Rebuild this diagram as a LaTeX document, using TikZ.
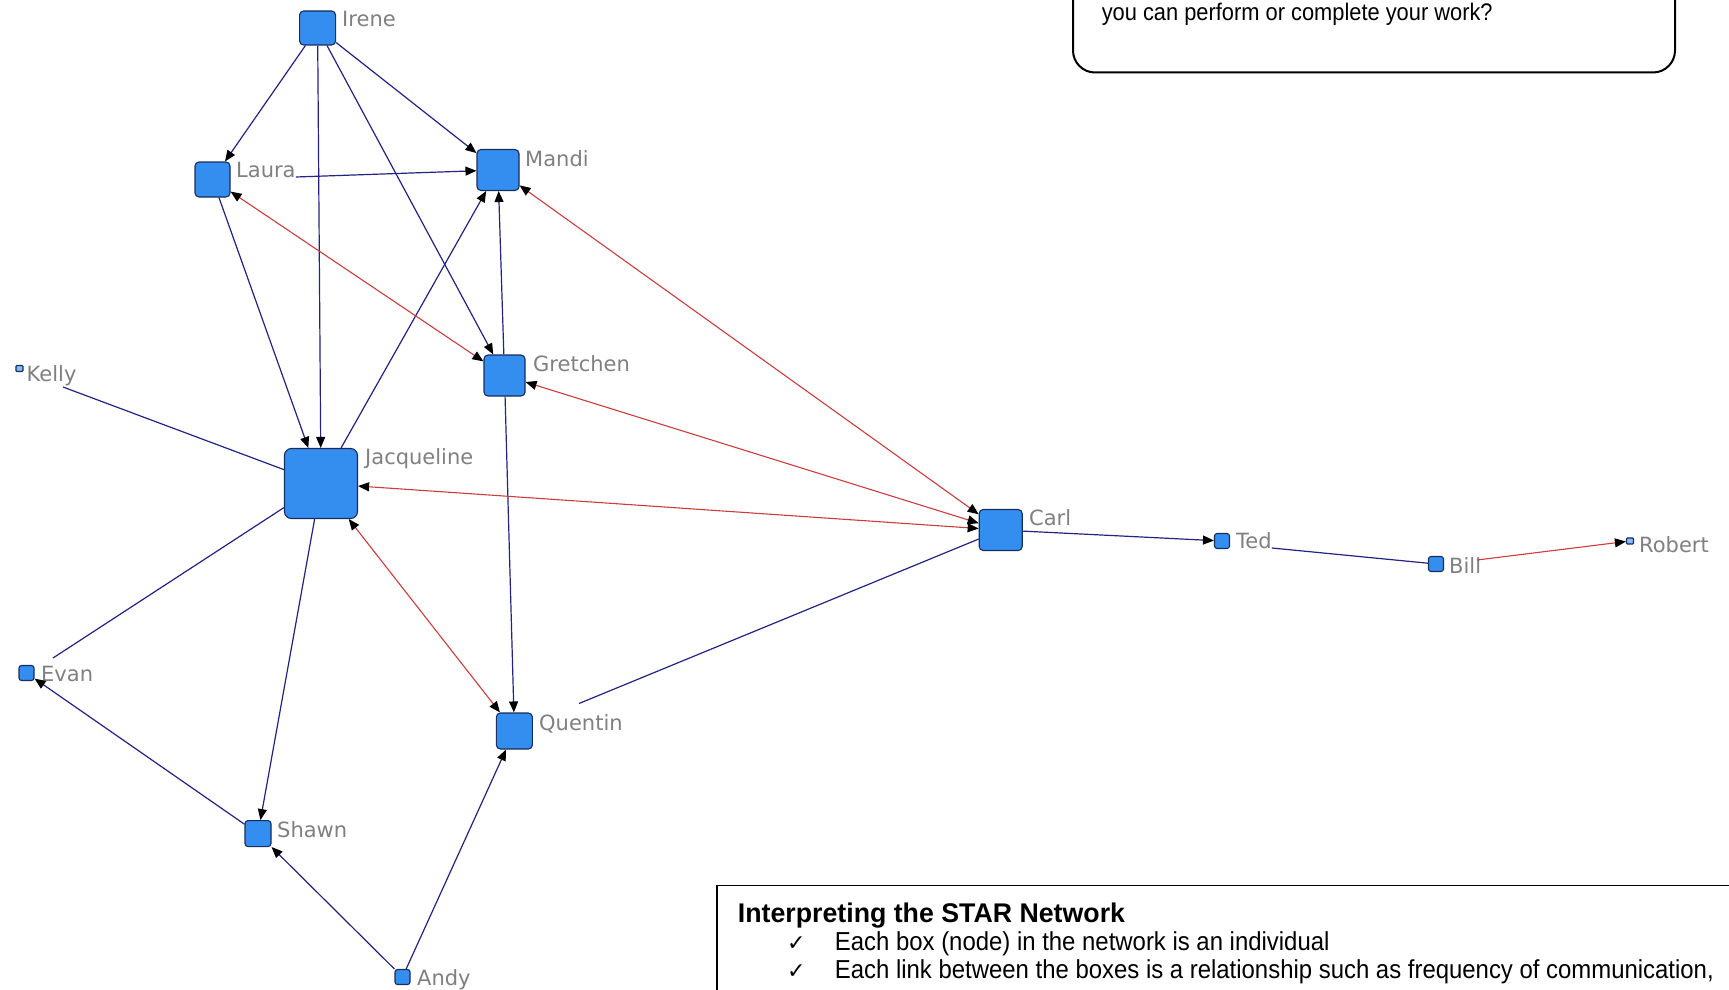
\documentclass[tikz,border=0pt]{standalone}
\usepackage{fontspec}
\setmainfont{Liberation Sans}[FakeStretch=0.91]
\newfontfamily\bodyfont{Liberation Sans}[FakeStretch=0.92]
\newfontfamily\titlefont{Liberation Sans}[FakeStretch=0.99]
\newfontfamily\lblfont{DejaVu Sans}
\newfontfamily\symfont{DejaVu Sans}
\usetikzlibrary{arrows.meta}
\definecolor{nodefill}{RGB}{52,142,240}
\definecolor{nodeline}{RGB}{25,45,95}
\definecolor{edgeblue}{RGB}{35,35,130}
\definecolor{edgered}{RGB}{205,60,60}
\definecolor{labelgray}{RGB}{128,128,128}
\tikzset{
  pnode/.style={draw=nodeline, fill=nodefill, line width=1.1pt, rounded corners=4pt, inner sep=0pt},
  lbl/.style={font=\lblfont\fontsize{21}{21}\selectfont, text=labelgray, anchor=base west, inner sep=0pt},
  be/.style={draw=edgeblue, line width=1.2pt},
  re/.style={draw=edgered, line width=1.1pt},
  tipone/.style={-{Triangle[length=11pt,width=9pt,color=black]}},
  tipboth/.style={{Triangle[length=11pt,width=9pt,color=black]}-{Triangle[length=11pt,width=9pt,color=black]}},
  toptext/.style={anchor=base west, inner sep=0pt, font=\fontsize{24}{28}\selectfont},
  bodytext/.style={anchor=base west, inner sep=0pt, font=\bodyfont\fontsize{26}{28}\selectfont},
  titletext/.style={anchor=base west, inner sep=0pt, font=\titlefont\bfseries\fontsize{27}{30}\selectfont},
  chk/.style={anchor=base west, inner sep=0pt, font=\symfont\fontsize{22}{22}\selectfont},
}
\begin{document}
\begin{tikzpicture}[x=1pt,y=-1pt]
\useasboundingbox (0,0) rectangle (1729,990);
\clip (0,0) rectangle (1729,990);
\fill[white] (0,0) rectangle (1729,990);

% info boxes
\draw[line width=2pt, rounded corners=22pt] (1073,-40) rectangle (1675,72.5);
\node[toptext] (qtext) at (1101.6,21) {you can perform or complete your work?};
\draw[line width=1.8pt] (716.8,885.5) rectangle (1770,1030);
\node[titletext] (title) at (737.7,922) {Interpreting the STAR Network};
\node[chk] (c1) at (787,950) {✓};
\node[bodytext] (t1) at (834.7,950) {Each box (node) in the network is an individual};
\node[chk] (c2) at (787,978) {✓};
\node[bodytext] (t2) at (834.7,978) {Each link between the boxes is a relationship such as frequency of communication,};

% nodes
\node[pnode, minimum width=36pt, minimum height=34pt] (irene) at (317.6,28) {};
\node[pnode, minimum width=35pt, minimum height=35pt] (laura) at (212.5,179.5) {};
\node[pnode, minimum width=42pt, minimum height=41pt] (mandi) at (498,170) {};
\node[pnode, minimum width=41pt, minimum height=41pt] (gretchen) at (504.5,375.5) {};
\node[pnode, rounded corners=1pt, line width=1.2pt, fill=nodefill!60!white, minimum width=7pt, minimum height=6pt] (kelly) at (19.5,368.5) {};
\node[pnode, rounded corners=7pt, minimum width=73pt, minimum height=70pt] (jac) at (321,483.5) {};
\node[pnode, minimum width=43pt, minimum height=41pt] (carl) at (1000.7,530) {};
\node[pnode, rounded corners=2.5pt, minimum width=15pt, minimum height=15pt] (ted) at (1222,541) {};
\node[pnode, rounded corners=2.5pt, minimum width=15pt, minimum height=15pt] (bill) at (1436,564) {};
\node[pnode, rounded corners=1pt, line width=1.2pt, fill=nodefill!60!white, minimum width=7pt, minimum height=6pt] (robert) at (1630,541) {};
\node[pnode, rounded corners=2.5pt, minimum width=15pt, minimum height=15pt] (evan) at (26.5,673) {};
\node[pnode, minimum width=36pt, minimum height=36pt] (quentin) at (514.4,731) {};
\node[pnode, rounded corners=3pt, minimum width=26pt, minimum height=26pt] (shawn) at (258,833.6) {};
\node[pnode, rounded corners=2.5pt, minimum width=15pt, minimum height=15pt] (andy) at (402.5,977) {};

% labels
\node[lbl] (l-irene) at (342,27) {Irene};
\node[lbl] (l-laura) at (236,177) {Laura};
\node[lbl] (l-mandi) at (525,166) {Mandi};
\node[lbl] (l-gretchen) at (533,371) {Gretchen};
\node[lbl] (l-kelly) at (26.5,381) {Kelly};
\node[lbl] (l-jac) at (365,464) {Jacqueline};
\node[lbl] (l-carl) at (1029,525) {Carl};
\node[lbl] (l-ted) at (1236,548) {Ted};
\node[lbl] (l-bill) at (1449,573) {Bill};
\node[lbl] (l-robert) at (1639,552) {Robert};
\node[lbl] (l-evan) at (41,681) {Evan};
\node[lbl] (l-quentin) at (539,730) {Quentin};
\node[lbl] (l-shawn) at (277,837) {Shawn};
\node[lbl] (l-andy) at (417,985) {Andy};

% free line ends
\coordinate (kstart) at (63,387);
\coordinate (estart) at (53,658);
\coordinate (qstart) at (579,703.5);
\coordinate (bstart) at (1477,560);

% blue edges
\draw[be, tipone] (irene) -- (laura);
\draw[be, tipone] (irene) -- (jac);
\draw[be, tipone] (irene) -- (mandi);
\draw[be, tipone] (irene) -- (gretchen);
\draw[be, tipone] (l-laura.base east) -- (mandi);
\draw[be, tipone] (laura) -- (jac);
\draw[be, tipone] (jac) -- (mandi);
\draw[be, tipone] (gretchen) -- (mandi);
\draw[be, tipone] (gretchen) -- (quentin);
\draw[be] (kstart) -- (jac);
\draw[be] (jac) -- (estart);
\draw[be, tipone] (shawn) -- (evan);
\draw[be, tipone] (jac) -- (shawn);
\draw[be, tipone] (andy) -- (shawn);
\draw[be, tipone] (andy) -- (quentin);
\draw[be] (qstart) -- (carl);
\draw[be, tipone] (carl) -- (ted);
\draw[be] (l-ted.base east) -- (bill);

% red edges
\draw[re, tipone] (bstart) -- (robert);
\draw[re, tipboth] (carl) -- (mandi);
\draw[re, tipboth] (carl) -- (gretchen);
\draw[re, tipboth] (carl) -- (jac);
\draw[re, tipboth] (laura) -- (gretchen);
\draw[re, tipboth] (jac) -- (quentin);
\end{tikzpicture}
\end{document}
